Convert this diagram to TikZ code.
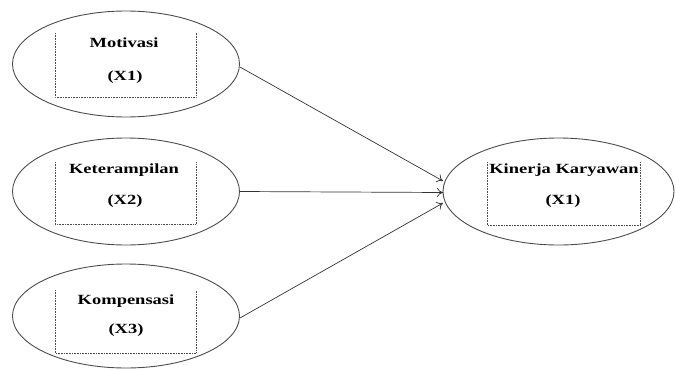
\documentclass[tikz,border=0pt]{standalone}
\usepackage{fontspec}
\setmainfont{Liberation Serif}
\usetikzlibrary{arrows.meta,shapes.geometric}
\newcommand{\lbl}[1]{\scalebox{1.32}[1]{\fontsize{14}{15}\selectfont\bfseries #1}}
\tikzset{
  var/.style={ellipse, draw=black!70, line width=0.9pt, inner sep=0pt},
  dotbox/.style={draw=black!70, densely dotted, line width=0.6pt},
  txt/.style={inner sep=0pt, anchor=center},
  link/.style={draw=black!80, line width=0.7pt, -{To[length=6pt,width=9pt]}},
}
\begin{document}
\begin{tikzpicture}[x=1pt,y=-1pt]
\useasboundingbox (0,0) rectangle (676,369);
% ellipses
\node[var, minimum width=227pt, minimum height=106pt] (m) at (126,64) {};
\node[var, minimum width=227pt, minimum height=107pt] (k) at (126,191.5) {};
\node[var, minimum width=227pt, minimum height=104pt] (p) at (126,316) {};
\node[var, minimum width=231pt, minimum height=107pt] (y) at (558.5,191.5) {};
% dotted boxes (three sides)
\draw[dotbox] (55,33) -- (55,97) -- (196,97) -- (196,33);
\draw[dotbox] (55,162) -- (55,224) -- (196,224) -- (196,162);
\draw[dotbox] (55,290) -- (55,353) -- (196,353) -- (196,290);
\draw[dotbox] (487,162) -- (487,225) -- (640,225) -- (640,162);
% texts
\node[txt] (mt) at (124,43) {\lbl{Motivasi}};
\node[txt] (mx) at (125,77) {\lbl{(X1)}};
\node[txt] (kt) at (124,170) {\lbl{Keterampilan}};
\node[txt] (kx) at (125,201) {\lbl{(X2)}};
\node[txt] (pt) at (126,301) {\lbl{Kompensasi}};
\node[txt] (px) at (126,330) {\lbl{(X3)}};
\node[txt] (yt) at (564,170) {\lbl{Kinerja Karyawan}};
\node[txt] (yx) at (563,201) {\lbl{(X1)}};
% anchors for arrow ends
\coordinate (e1) at (443,181);
\coordinate (e2) at (443,192.5);
\coordinate (e3) at (443,203);
\draw[link] (m.east) ++(0,3) -- (e1);
\draw[link] (k.east) -- (e2);
\draw[link] (p.east) ++(0,2) -- (e3);
\end{tikzpicture}
\end{document}
